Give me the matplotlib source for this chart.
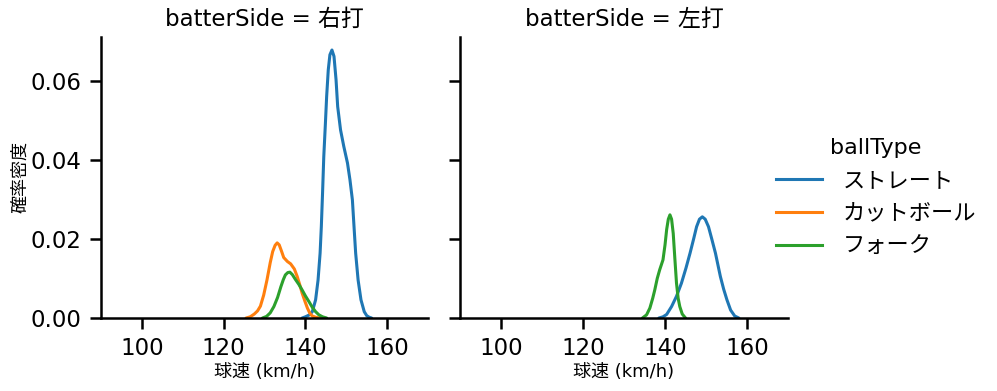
import matplotlib
matplotlib.use("Agg")
import matplotlib.pyplot as plt

plt.rcParams['font.family'] = ['DejaVu Sans', 'Noto Sans CJK JP']

panels = ["右打", "左打"]
ball_types = ["ストレート", "カットボール", "フォーク"]
colors = ["#1f77b4", "#ff7f0e", "#2ca02c"]

r_straight_x = [139.2, 140.0, 141.0, 141.7, 142.5, 143.1, 143.6, 143.9, 144.2, 144.5, 144.9, 145.2, 145.6, 146.0, 146.5, 147.0, 147.5, 147.9, 148.6, 149.4, 150.3, 150.9, 151.5, 151.9, 152.3, 152.9, 153.6, 154.4, 155.0, 155.6, 156.2]
r_straight_y = [0.0, 0.0003, 0.0008, 0.0016, 0.0046, 0.0096, 0.0164, 0.0231, 0.0316, 0.0408, 0.0493, 0.0560, 0.0628, 0.0666, 0.0678, 0.0662, 0.0603, 0.0535, 0.0476, 0.0434, 0.0392, 0.0350, 0.0299, 0.0231, 0.0164, 0.0096, 0.0046, 0.0016, 0.0006, 0.0002, 0.0]
r_cut_x = [125.5, 126.5, 127.5, 128.3, 129.0, 129.8, 130.6, 131.4, 132.0, 132.6, 133.1, 133.6, 134.2, 134.7, 135.6, 136.4, 137.3, 138.0, 138.6, 139.2, 139.9, 140.5, 141.1, 141.7, 142.5, 143.5]
r_cut_y = [0.0, 0.0003, 0.0010, 0.0018, 0.0030, 0.0058, 0.0096, 0.0140, 0.0168, 0.0184, 0.0190, 0.0185, 0.0168, 0.0153, 0.0143, 0.0137, 0.0124, 0.0105, 0.0085, 0.0063, 0.0042, 0.0025, 0.0012, 0.0005, 0.0002, 0.0]
r_fork_x = [129.5, 130.5, 131.4, 132.3, 133.2, 134.0, 134.6, 135.1, 135.7, 136.2, 136.8, 137.6, 138.4, 139.2, 140.0, 140.9, 141.7, 142.5, 143.3, 144.2, 145.2]
r_fork_y = [0.0, 0.0004, 0.0013, 0.0029, 0.0052, 0.0079, 0.0097, 0.0109, 0.0115, 0.0116, 0.0110, 0.0097, 0.0085, 0.0071, 0.0056, 0.0041, 0.0027, 0.0016, 0.0008, 0.0003, 0.0]

l_straight_x = [138.5, 139.5, 140.4, 141.6, 142.8, 144.0, 145.1, 146.1, 147.0, 147.7, 148.4, 149.1, 149.8, 150.6, 151.4, 152.3, 153.5, 154.3, 155.1, 156.0, 157.0, 158.0]
l_straight_y = [0.0, 0.0003, 0.0009, 0.0029, 0.0055, 0.0088, 0.0126, 0.0164, 0.0201, 0.0231, 0.0250, 0.0256, 0.0250, 0.0231, 0.0200, 0.0164, 0.0105, 0.0073, 0.0046, 0.0020, 0.0005, 0.0]
l_fork_x = [134.5, 135.5, 136.3, 137.0, 137.5, 138.1, 138.7, 139.5, 140.0, 140.4, 140.8, 141.2, 141.6, 142.0, 142.4, 142.8, 143.2, 143.6, 144.2, 145.0]
l_fork_y = [0.0, 0.0008, 0.0025, 0.0050, 0.0071, 0.0100, 0.0122, 0.0147, 0.0185, 0.0224, 0.0250, 0.0261, 0.0250, 0.0214, 0.0150, 0.0088, 0.0050, 0.0029, 0.0010, 0.0]

curves = {
    "右打": [(r_straight_x, r_straight_y), (r_cut_x, r_cut_y), (r_fork_x, r_fork_y)],
    "左打": [(l_straight_x, l_straight_y), None, (l_fork_x, l_fork_y)],
}

x_ticks = [100, 120, 140, 160]
y_ticks = [0.00, 0.02, 0.04, 0.06]

fig = plt.figure(figsize=(9.97, 3.91), dpi=100)
ax1 = fig.add_axes([0.1013, 0.1867, 0.328, 0.7187])
ax2 = fig.add_axes([0.4614, 0.1867, 0.329, 0.7187], sharey=ax1)

for ax, side in zip([ax1, ax2], panels):
    for i, c in enumerate(curves[side]):
        if c is None:
            continue
        ax.plot(c[0], c[1], color=colors[i], lw=2.2, solid_joinstyle='round',
                solid_capstyle='round')
    ax.set_xlim(90, 170)
    ax.set_ylim(0, 0.0711)
    ax.set_xticks(x_ticks)
    ax.set_yticks(y_ticks)
    ax.set_yticklabels([f"{v:.2f}" for v in y_ticks])
    ax.tick_params(labelsize=16.5, width=1.8, length=8, pad=6)
    for s in ['top', 'right']:
        ax.spines[s].set_visible(False)
    for s in ['left', 'bottom']:
        ax.spines[s].set_linewidth(1.8)
    ax.set_title(f"batterSide = {side}", fontsize=16.5, pad=8)
    ax.set_xlabel("球速 (km/h)", fontsize=13, labelpad=2)

ax1.set_ylabel("確率密度", fontsize=13, labelpad=1)
ax2.tick_params(labelleft=False)

handles = [plt.Line2D([], [], color=col, lw=2.2) for col in colors]
leg = fig.legend(handles, ball_types, title="ballType", loc='center left',
                 bbox_to_anchor=(0.758, 0.495), frameon=False, fontsize=16,
                 title_fontsize=16, handlelength=2.1, handletextpad=0.9,
                 labelspacing=0.58)

fig.savefig("out.png", dpi=100)
